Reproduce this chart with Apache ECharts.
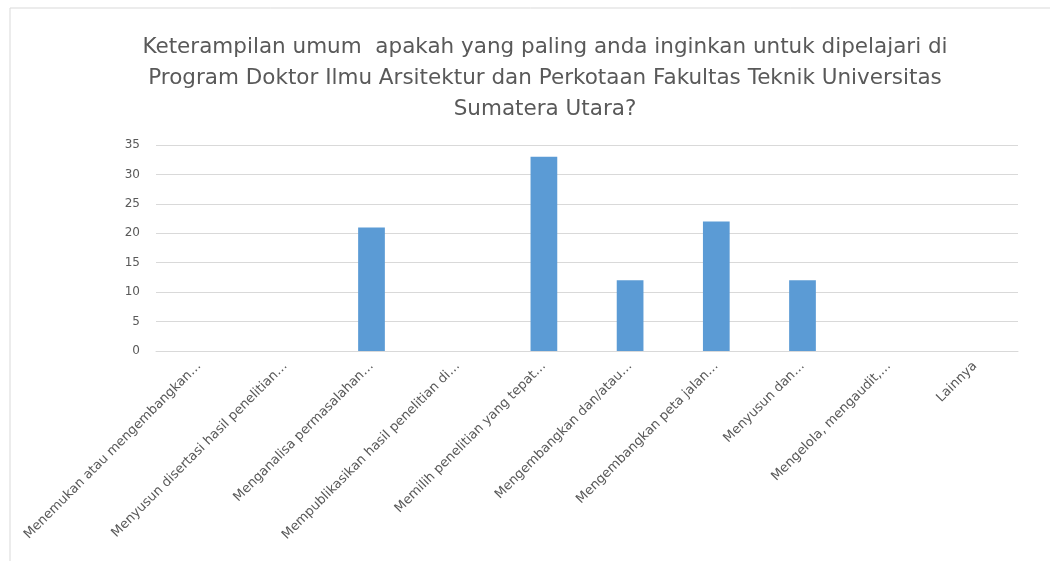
<!DOCTYPE html>
<html>
<head>
<meta charset="utf-8">
<script src="https://cdn.jsdelivr.net/npm/echarts@6/dist/echarts.min.js"></script>
<style>
  html, body { margin: 0; padding: 0; background: #fff; }
  #chart { width: 1050px; height: 561px; }
</style>
</head>
<body>
<div id="chart"></div>
<script>
var chartDom = document.getElementById('chart');
var myChart = echarts.init(chartDom);

const titleText = 'Keterampilan umum  apakah yang paling anda inginkan untuk dipelajari di\nProgram Doktor Ilmu Arsitektur dan Perkotaan Fakultas Teknik Universitas\nSumatera Utara?';
const categories = [
    'Menemukan atau mengembangkan…',
    'Menyusun disertasi hasil penelitian…',
    'Menganalisa permasalahan…',
    'Mempublikasikan hasil penelitian di…',
    'Memilih penelitian yang tepat…',
    'Mengembangkan dan/atau…',
    'Mengembangkan peta jalan…',
    'Menyusun dan…',
    'Mengelola, mengaudit,…',
    'Lainnya'
];
const counts = [0, 0, 21, 0, 33, 12, 22, 12, 0, 0];
const yTicks = [0, 5, 10, 15, 20, 25, 30, 35];

const textGrey = '#595959';
const lineGrey = '#d9d9d9';

var option = {
    backgroundColor: '#fff',
    animation: false,
    title: {
        text: titleText,
        left: 540,
        textAlign: 'center', // title block centred a bit right of the canvas middle
        top: 27,
        textStyle: {
            color: textGrey,
            fontFamily: 'DejaVu Sans',
            fontWeight: 'normal',
            fontSize: 21.5,
            lineHeight: 31
        }
    },
    // chart frame (Excel style border, cropped at right/bottom)
    graphic: [{
        type: 'rect',
        shape: { x: 10, y: 8, width: 1100, height: 600 },
        style: { fill: 'none', stroke: lineGrey, lineWidth: 1 },
        silent: true
    }],
    grid: {
        left: 156,
        right: 32,
        top: 145,
        bottom: 210
    },
    xAxis: {
        type: 'category',
        data: categories,
        axisLine: { lineStyle: { color: lineGrey } },
        axisTick: { show: false },
        axisLabel: {
            interval: 0,
            rotate: 45,
            margin: 13,
            color: textGrey,
            fontFamily: 'DejaVu Sans',
            fontSize: 13
        }
    },
    yAxis: {
        type: 'value',
        min: yTicks[0],
        max: yTicks[yTicks.length - 1],
        interval: 5,
        axisLine: { show: false },
        axisTick: { show: false },
        splitLine: { lineStyle: { color: lineGrey, width: 1 } },
        axisLabel: {
            margin: 16,
            color: textGrey,
            fontFamily: 'DejaVu Sans',
            fontSize: 12
        }
    },
    series: [{
        name: 'Jumlah',
        type: 'bar',
        data: counts,
        barWidth: '31%',
        itemStyle: { color: '#5b9bd5' }
    }]
};

option && myChart.setOption(option);
</script>
</body>
</html>
